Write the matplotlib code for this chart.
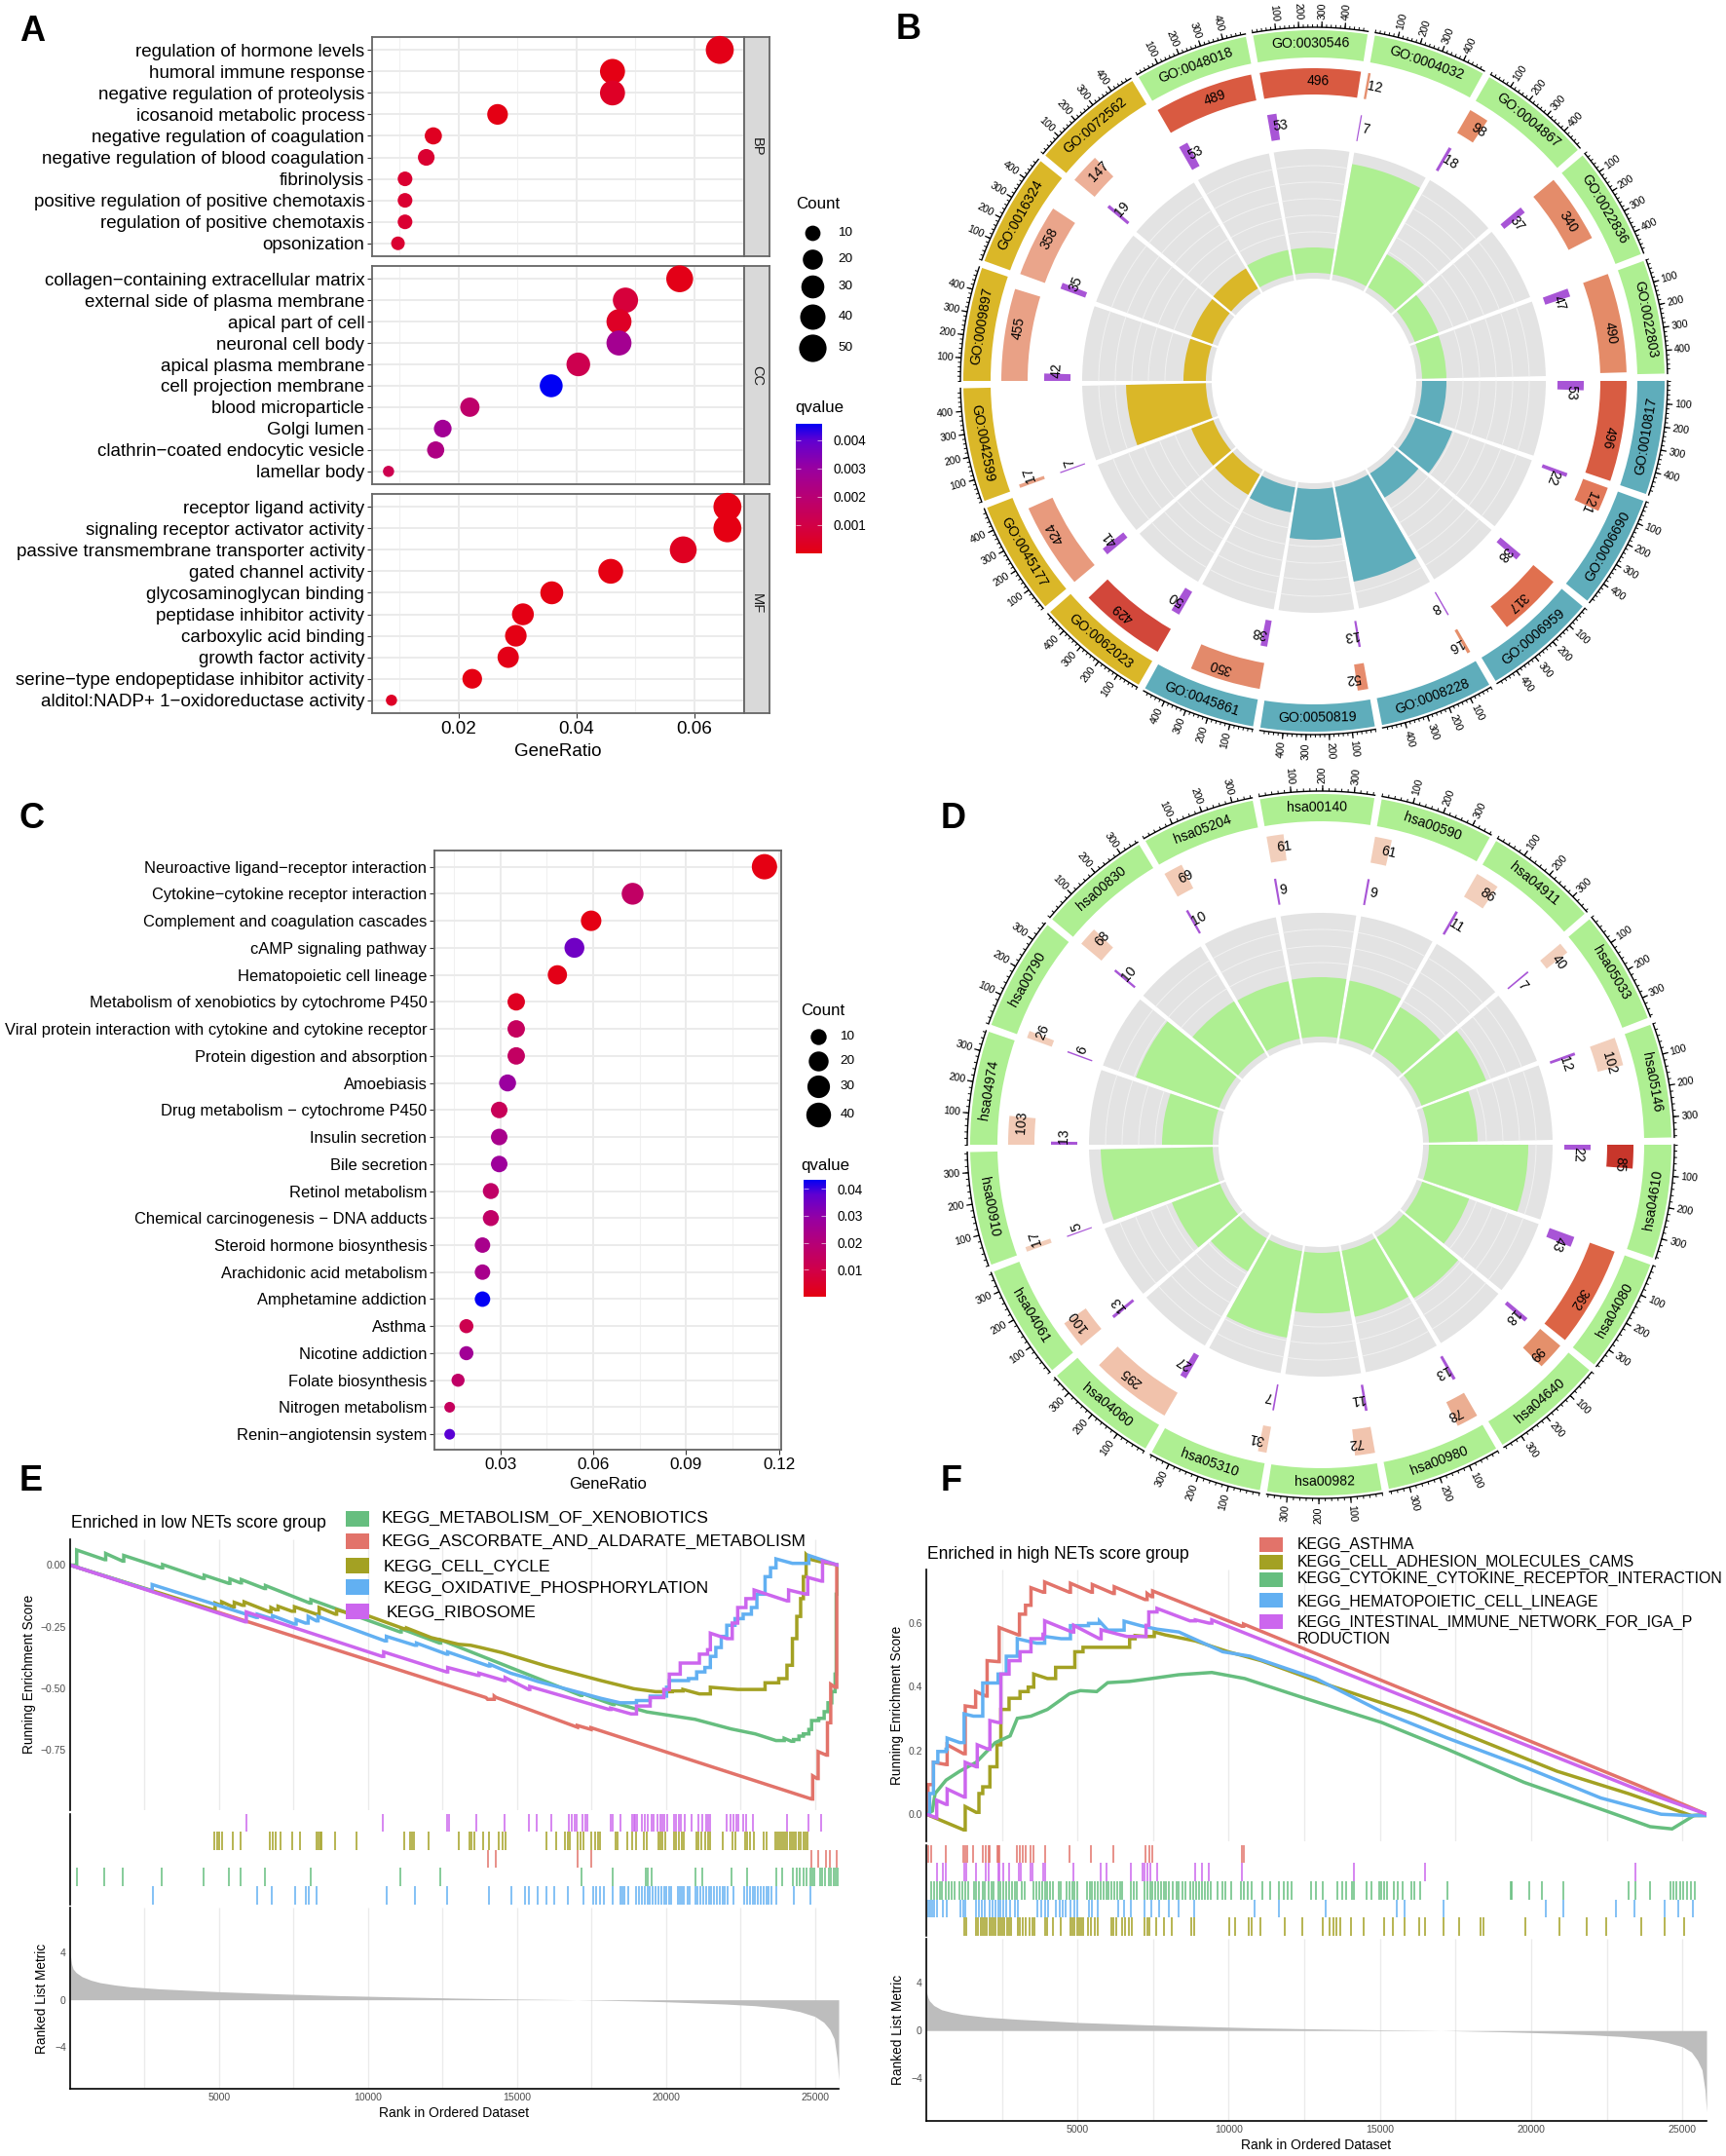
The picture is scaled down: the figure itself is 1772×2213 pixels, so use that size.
import numpy as np
import matplotlib
matplotlib.use("Agg")
import matplotlib.pyplot as plt
from matplotlib.colors import LinearSegmentedColormap, Normalize
from matplotlib.patches import Rectangle

plt.rcParams['font.family'] = ['Liberation Sans', 'DejaVu Sans']

W, H = 1772, 2213

# panel A
bp_terms = ["regulation of hormone levels", "humoral immune response", "negative regulation of proteolysis",
            "icosanoid metabolic process", "negative regulation of coagulation", "negative regulation of blood coagulation",
            "fibrinolysis", "positive regulation of positive chemotaxis", "regulation of positive chemotaxis", "opsonization"]
bp_ratio = [.0643, .0461, .0461, .0266, .0157, .0145, .0109, .0109, .0109, .0097]
bp_count = [54, 39, 39, 22, 13, 12, 9, 9, 9, 8]
bp_q = [.0001, .00005, .0004, .00005, .0003, .0006, .0006, .0006, .0006, .0006]
cc_terms = ["collagen−containing extracellular matrix", "external side of plasma membrane", "apical part of cell",
            "neuronal cell body", "apical plasma membrane", "cell projection membrane", "blood microparticle",
            "Golgi lumen", "clathrin−coated endocytic vesicle", "lamellar body"]
cc_ratio = [.0575, .0483, .0472, .0472, .0403, .0357, .0219, .0173, .0161, .0081]
cc_count = [48, 40, 39, 39, 33, 30, 18, 14, 13, 7]
cc_q = [.0001, .0008, .0004, .0027, .0012, .0047, .0018, .0028, .0024, .0012]
mf_terms = ["receptor ligand activity", "signaling receptor activator activity", "passive transmembrane transporter activity",
            "gated channel activity", "glycosaminoglycan binding", "peptidase inhibitor activity", "carboxylic acid binding",
            "growth factor activity", "serine−type endopeptidase inhibitor activity", "alditol:NADP+ 1−oxidoreductase activity"]
mf_ratio = [.0656, .0656, .0581, .0458, .0358, .0309, .0297, .0284, .0223, .0086]
mf_count = [54, 54, 48, 38, 30, 26, 25, 24, 19, 7]
mf_q = [.00002, .00002, .0003, .00002, .00002, .00005, .00005, .0001, .00002, .0004]

# panel C
kegg_terms = ["Neuroactive ligand−receptor interaction", "Cytokine−cytokine receptor interaction",
              "Complement and coagulation cascades", "cAMP signaling pathway", "Hematopoietic cell lineage",
              "Metabolism of xenobiotics by cytochrome P450", "Viral protein interaction with cytokine and cytokine receptor",
              "Protein digestion and absorption", "Amoebiasis", "Drug metabolism − cytochrome P450", "Insulin secretion",
              "Bile secretion", "Retinol metabolism", "Chemical carcinogenesis − DNA adducts", "Steroid hormone biosynthesis",
              "Arachidonic acid metabolism", "Amphetamine addiction", "Asthma", "Nicotine addiction", "Folate biosynthesis",
              "Nitrogen metabolism", "Renin−angiotensin system"]
kegg_ratio = [.1153, .0727, .0593, .0539, .0484, .0351, .0351, .0351, .0323, .0296, .0296, .0296, .0269, .0269,
              .0242, .0242, .0242, .0190, .0190, .0163, .0136, .0136]
kegg_count = [43, 27, 22, 20, 18, 13, 13, 13, 12, 11, 11, 11, 10, 10, 9, 9, 9, 7, 7, 6, 5, 5]
kegg_q = [.0003, .0155, .0005, .035, .001, .003, .014, .015, .028, .013, .024, .027, .016, .016, .024, .024, .043,
          .011, .026, .016, .014, .038]

# panel B, clockwise from east
go_ids = ["GO:0010817", "GO:0006690", "GO:0006959", "GO:0008228", "GO:0050819", "GO:0045861", "GO:0062023", "GO:0045177",
          "GO:0042599", "GO:0009897", "GO:0016324", "GO:0072562", "GO:0048018", "GO:0030546", "GO:0004032", "GO:0004867",
          "GO:0022836", "GO:0022803"]
go_total = [496, 121, 317, 16, 52, 350, 429, 424, 17, 455, 358, 147, 489, 496, 12, 98, 340, 490]
go_hits = [53, 22, 38, 8, 13, 38, 50, 41, 7, 42, 35, 19, 53, 53, 7, 18, 37, 47]
go_rich = [136, 151, 140, 210, 163, 137, 135, 135, 193, 134, 134, 135, 137, 137, 226, 150, 137, 136]
go_bar_colors = ["#D85C42", "#E2795A", "#E0704F", "#E58F6B", "#E68C6D", "#E38A6B", "#D2473A", "#E89A7D", "#E9A286",
                 "#E9A186", "#EAA58B", "#EDB098", "#D95A41", "#D95A41", "#E58F6E", "#E58C68", "#E48C6A", "#E48B68"]
go_sector_colors = ["#5FADBB"] * 6 + ["#DAB728"] * 6 + ["#AEEF92"] * 6

# panel D, clockwise from east
hsa_ids = ["hsa04610", "hsa04080", "hsa04640", "hsa00980", "hsa00982", "hsa05310", "hsa04060", "hsa04061", "hsa00910",
           "hsa04974", "hsa00790", "hsa00830", "hsa05204", "hsa00140", "hsa00590", "hsa04911", "hsa05033", "hsa05146"]
hsa_total = [85, 362, 99, 78, 72, 31, 295, 100, 17, 103, 26, 68, 69, 61, 61, 86, 40, 102]
hsa_hits = [22, 43, 18, 13, 11, 7, 27, 13, 5, 13, 6, 10, 10, 9, 9, 11, 7, 12]
hsa_rich = [213, 162, 184, 180, 173, 201, 150, 164, 226, 163, 202, 172, 171, 172, 171, 163, 182, 161]
hsa_bar_colors = ["#C8362B", "#DC6445", "#E4906B", "#EBAE92", "#F1C4AE", "#F2C9B4", "#F1C2AB", "#F1C4AE", "#F2CDB9", "#F2CAB6",
                  "#F2CDB9", "#F2CBB6", "#F2CBB6", "#F2CFBC", "#F2CDB9", "#F2CFBC", "#F2CFBC", "#F2CFBC"]
hsa_sector_colors = ["#AEEF92"] * 18

# panel E
e_names = ["KEGG_METABOLISM_OF_XENOBIOTICS", "KEGG_ASCORBATE_AND_ALDARATE_METABOLISM", "KEGG_CELL_CYCLE",
           "KEGG_OXIDATIVE_PHOSPHORYLATION", "KEGG_RIBOSOME"]
e_green_x = [0, 90, 220, 1157, 1194, 1763, 1800, 3068, 3105, 4464, 4500, 5327, 5364, 5713, 5750, 6521, 6558, 8046, 8083, 11077,
             11114, 12400, 12437, 17140, 17176, 18223, 18260, 19362, 20979, 22190, 23000, 23697, 23973, 24212, 24285, 24468,
             24615, 24800, 24891, 25130, 25314, 25442, 25570, 25681, 25718, 25773]
e_green_y = [0, 0, .061, .022, .047, .016, .039, -.011, .002, -.054, -.041, -.074, -.056, -.072, -.059, -.095, -.083, -.154, -.14,
             -.271, -.258, -.316, -.303, -.528, -.52, -.565, -.558, -.595, -.625, -.664, -.684, -.711, -.702, -.714, -.707, -.693,
             -.684, -.666, -.63, -.621, -.594, -.558, -.513, -.442, -.118, 0]
e_red_x = [0, 13961, 14016, 14237, 14292, 17029, 17029, 17488, 17488, 24891, 24928, 25075, 25112, 25387, 25424, 25498, 25534, 25681, 25736]
e_red_y = [0, -.537, -.544, -.531, -.536, -.657, -.65, -.666, -.659, -.948, -.854, -.865, -.756, -.77, -.639, -.639, -.483, -.495, 0]
e_olive_x = [0, 4813, 4868, 5052, 5089, 5456, 5511, 5787, 5842, 6705, 6742, 6889, 6981, 7440, 7532, 8267, 8358, 8909, 8946, 9552, 9644,
             11206, 11298, 12124, 13043, 13447, 13778, 14512, 15982, 17819, 18921, 19656, 20207, 20574, 21125, 21493, 22411, 23330,
             23789, 24065, 24248, 24395, 24524, 24616, 24708, 24891, 25167, 25773]
e_olive_y = [0, -.181, -.154, -.163, -.149, -.169, -.151, -.163, -.149, -.19, -.172, -.181, -.167, -.187, -.169, -.199, -.172, -.199,
             -.181, -.203, -.19, -.258, -.255, -.294, -.321, -.325, -.334, -.355, -.409, -.468, -.501, -.513, -.51, -.504, -.522,
             -.495, -.504, -.477, -.46, -.406, -.298, -.208, -.136, -.047, .043, .022, .014, 0]
e_blue_x = [0, 2719, 2755, 6246, 6283, 6760, 6797, 7532, 7587, 7899, 7991, 8267, 8322, 10563, 10618, 11573, 11628, 12639, 12675, 14053,
            14090, 14788, 15247, 15706, 16717, 17268, 17819, 18462, 19013, 19472, 20023, 20115, 20758, 21033, 21309, 21493, 21677, 21860,
            22044, 22320, 22595, 22871, 23055, 23330, 23513, 23697, 24248, 24800, 25773]
e_blue_y = [0, -.104, -.079, -.212, -.199, -.217, -.205, -.239, -.221, -.235, -.208, -.226, -.208, -.307, -.289, -.325, -.316, -.361,
            -.352, -.409, -.402, -.438, -.454, -.472, -.504, -.522, -.54, -.558, -.549, -.531, -.495, -.468, -.46, -.433, -.415, -.37,
            -.334, -.289, -.244, -.217, -.199, -.172, -.118, -.047, -.011, .025, .007, .039, 0]
e_pink_x = [0, 5878, 5915, 10471, 10526, 12639, 12675, 13686, 13723, 14568, 14604, 15394, 15431, 18094, 18150, 18829, 19013, 19472, 19932,
            20115, 20482, 21125, 21401, 21493, 22044, 22228, 22411, 22687, 22962, 24065, 24120, 24708, 24763, 25222, 25259, 25773]
e_pink_y = [0, -.23, -.19, -.37, -.352, -.433, -.415, -.447, -.438, -.468, -.456, -.504, -.492, -.585, -.58, -.603, -.571, -.537, -.504,
            -.442, -.397, -.361, -.343, -.276, -.298, -.235, -.172, -.136, -.101, -.145, -.101, -.118, -.05, -.065, .016, 0]

e_rug_pink = [5915, 10508, 12639, 12712, 13649, 14568, 15413, 15651, 16166, 16753, 16845, 16937, 17011, 17213, 17286, 17360, 18132, 18223,
              18462, 18866, 18921, 18976, 19031, 19197, 19289, 19399, 19509, 19601, 19711, 19803, 19876, 19950, 20060, 20281, 20354,
              20428, 20501, 20630, 20869, 21107, 21217, 21346, 21420, 21493, 22044, 22154, 22265, 22375, 22448, 22595, 22705, 22926,
              24083, 24781, 25204]
e_rug_olive = [4850, 4942, 5015, 5089, 5456, 5732, 6705, 6797, 6907, 7054, 7458, 7716, 8285, 8340, 8395, 8450, 8909, 9625, 11206, 11426,
               11481, 11536, 12032, 13043, 13411, 13484, 13557, 13851, 14053, 14402, 14512, 14623, 15982, 16313, 16625, 16717, 16772,
               17029, 17139, 17231, 17488, 17635, 17708, 17782, 18315, 18388, 18701, 18866, 18995, 19252, 19344, 19766, 19821, 19895,
               19968, 20281, 20354, 20446, 20538, 20593, 21015, 21107, 21180, 21309, 21420, 21493, 21897, 22228, 22320, 22650, 22723,
               22815, 22962, 23293, 23385, 23660, 23734, 23789, 23862, 23936, 24010, 24083, 24157, 24230, 24304, 24377, 24450, 24524,
               24615, 24689, 24763]
e_rug_red = [14016, 14292, 17029, 17488, 24891, 25112, 25387, 25497, 25736]
e_rug_green = [220, 1157, 1763, 3086, 4464, 5346, 5732, 6540, 8065, 11077, 12418, 17176, 18223, 19325, 19399, 19509, 20979, 21217, 22190,
               22742, 23697, 23918, 24267, 24395, 24505, 24615, 24707, 24836, 24909, 24983, 25167, 25259, 25351, 25479, 25553, 25626,
               25718, 25773]
e_rug_blue = [2774, 6283, 6760, 7550, 7917, 8010, 8285, 10618, 11573, 12657, 14053, 14806, 15265, 15394, 15706, 15982, 16258, 16717, 17231,
              17562, 17672, 17782, 17929, 18223, 18462, 18535, 18609, 18737, 19013, 19105, 19197, 19289, 19381, 19472, 19564, 19656,
              19748, 19840, 19932, 20005, 20097, 20170, 20391, 20464, 20538, 20611, 20722, 20795, 20979, 21070, 21162, 21254, 21346,
              21438, 21530, 21622, 21713, 21805, 21897, 21989, 22081, 22265, 22632, 22723, 22815, 22907, 22999, 23091, 23183, 23275,
              23367, 23458, 23550, 23697, 24285, 24854]
e_metric_x = [0, 50, 100, 200, 400, 700, 1000, 1500, 2000, 3000, 4000, 5000, 7000, 9000, 11000, 13000, 15000, 16500, 17000, 18000, 19000,
              20000, 21000, 22000, 23000, 24000, 24500, 25000, 25300, 25500, 25650, 25750, 25800]
e_metric_y = [3.9, 3.0, 2.6, 2.3, 1.95, 1.65, 1.45, 1.25, 1.1, .92, .8, .68, .5, .35, .24, .14, .06, .02, 0, -.05, -.1, -.17, -.26, -.36,
              -.5, -.75, -1, -1.4, -1.9, -2.5, -3.3, -5, -6.8]

# panel F
f_names = ["KEGG_ASTHMA", "KEGG_CELL_ADHESION_MOLECULES_CAMS", "KEGG_CYTOKINE_CYTOKINE_RECEPTOR_INTERACTION",
           "KEGG_HEMATOPOIETIC_CELL_LINEAGE", "KEGG_INTESTINAL_IMMUNE_NETWORK_FOR_IGA_P\nRODUCTION"]
f_red_x = [0, 54, 236, 652, 689, 1232, 1287, 1595, 1631, 1975, 2011, 2374, 2410, 3044, 3080, 3280, 3461, 3860, 3914, 4729, 4766, 5454, 5490,
           6179, 6215, 7230, 7302, 7447, 7484, 10437, 10491, 23483, 25803]
f_red_y = [0, .093, .163, .156, .218, .19, .34, .336, .385, .371, .482, .479, .586, .563, .628, .656, .711, .697, .729, .697, .725, .697,
           .721, .693, .714, .674, .693, .683, .701, .59, .597, .093, 0]
f_olive_x = [0, 1232, 1287, 1649, 1740, 1866, 2102, 2337, 2464, 2736, 3099, 3370, 3552, 4005, 4276, 4729, 4911, 5182, 5817, 6179, 6723, 6904,
             7266, 7538, 7900, 8897, 9984, 11071, 13065, 16145, 18319, 20856, 23212, 25296, 25803]
f_olive_y = [0, -.049, .024, .006, .065, .086, .149, .218, .329, .364, .385, .399, .44, .426, .461, .461, .51, .524, .524, .524, .551, .561,
             .558, .572, .563, .544, .51, .482, .413, .315, .232, .135, .065, -.004, 0]
f_green_x = [0, 199, 290, 652, 1105, 1649, 2283, 2772, 3008, 3461, 4005, 4729, 5092, 5635, 5998, 6723, 7447, 8353, 9441, 10528, 12521, 15058,
             17232, 19769, 22487, 23936, 24661, 25386, 25803]
f_green_y = [0, .01, .065, .107, .135, .163, .225, .246, .301, .308, .329, .378, .388, .385, .413, .417, .426, .438, .445, .426, .364, .288,
             .204, .1, .01, -.039, -.046, -.004, 0]
f_blue_x = [0, 109, 236, 381, 652, 689, 1105, 1250, 1558, 1866, 2374, 2645, 3008, 3642, 3914, 4458, 4766, 5364, 5726, 5998, 6541, 7085, 7629,
            8353, 9803, 10709, 12883, 15058, 17232, 19769, 22306, 24299, 25205, 25803]
f_blue_y = [0, .065, .163, .197, .204, .239, .225, .315, .308, .412, .44, .496, .551, .537, .558, .551, .592, .599, .606, .578, .606, .592,
            .581, .572, .51, .496, .426, .322, .239, .149, .051, 0, -.004, 0]
f_pink_x = [0, 344, 344, 652, 689, 1250, 1287, 1649, 1685, 2048, 2102, 2374, 2464, 2736, 3099, 3461, 3860, 3914, 4820, 4874, 5726, 5780, 6632,
            7266, 7357, 7629, 8716, 8897, 9350, 9441, 23483, 25803]
f_pink_y = [0, -.011, .044, .031, .079, .054, .163, .149, .218, .204, .294, .288, .44, .482, .51, .551, .565, .607, .572, .593, .551, .579,
            .558, .593, .635, .646, .607, .61, .6, .61, .079, 0]

f_rug_red = [54, 163, 652, 1232, 1287, 1359, 1558, 1884, 1975, 2048, 2102, 2337, 2392, 2428, 3008, 3080, 3189, 3298, 3461, 3551, 3914, 4729,
             5436, 6197, 7248, 7375, 7484, 10437, 10491]
f_rug_pink = [344, 562, 652, 1250, 1323, 1649, 1975, 2048, 2374, 2428, 2555, 2736, 3062, 3135, 3461, 3515, 3860, 3914, 4874, 5780, 5961, 6759,
              7139, 7230, 7320, 7411, 7629, 8897, 9115, 9350, 10437, 14152, 16507, 23447]
f_rug_green = [163, 254, 344, 435, 525, 652, 743, 834, 924, 1105, 1196, 1287, 1377, 1576, 1649, 1740, 1866, 1939, 2048, 2156, 2229, 2374, 2464,
               2555, 2646, 2736, 2827, 2917, 2990, 3171, 3243, 3552, 3642, 3733, 3823, 3914, 4005, 4095, 4186, 4367, 4458, 4639, 4729, 4820,
               4911, 5001, 5309, 5400, 5490, 5581, 5672, 5762, 5853, 5943, 6034, 6125, 6215, 6306, 6396, 6487, 6777, 6867, 6958, 7212, 7302,
               7393, 7484, 7574, 7665, 7755, 7846, 7937, 8027, 8136, 8263, 8353, 8462, 8571, 8716, 8824, 8933, 9024, 9114, 9205, 9296, 9404,
               9622, 9803, 9894, 10075, 10401, 10491, 10618, 10745, 11108, 11379, 11651, 11832, 11941, 12068, 12738, 12883, 13101, 13608,
               13753, 13880, 14061, 14152, 14550, 14732, 14967, 15058, 15148, 15239, 15456, 15601, 15746, 16054, 16145, 16326, 17232, 19316,
               19370, 19950, 20349, 21074, 23212, 23447, 23936, 24607, 24697, 24806, 24933, 25024, 25151, 25296, 25422]
f_rug_blue = [54, 127, 199, 272, 344, 562, 670, 1142, 1214, 1287, 1649, 1740, 1830, 1921, 2102, 2193, 2283, 2374, 2464, 2555, 2646, 2773, 2917,
              3026, 3678, 3787, 3914, 4041, 4276, 4403, 4512, 4620, 4765, 4910, 4983, 5364, 5490, 5672, 6360, 6541, 6759, 7230, 7447, 7701,
              8027, 8353, 8860, 10854, 11651, 13210, 15547, 15819, 17105, 20494, 21074, 22795, 23429, 24408, 24879, 25350]
f_rug_olive = [1250, 1323, 1649, 1721, 1794, 1866, 1939, 2011, 2084, 2156, 2229, 2301, 2374, 2446, 2519, 2591, 2664, 2736, 2809, 3026, 3099,
               3189, 3280, 3425, 3515, 3588, 3914, 4005, 4186, 4458, 4765, 4838, 4910, 4983, 5055, 5128, 5200, 5345, 5454, 5563, 5672, 6107,
               6179, 6270, 6469, 6578, 6686, 6795, 7212, 7302, 7375, 7592, 7846, 8118, 8770, 8860, 10022, 10221, 10655, 10745, 11035, 11869,
               12449, 13101, 13336, 13463, 13572, 13699, 14043, 14478, 15148, 15420, 15819, 16290, 16507, 17105, 17630, 18319, 18427, 19823,
               20948, 21836, 22470, 23647, 24408, 25060]
f_metric_x = [0, 50, 100, 250, 500, 800, 1200, 2000, 3000, 4000, 5000, 7000, 9000, 11000, 13000, 15000, 16500, 17000, 18000, 19000, 20000,
              21000, 22000, 23000, 24000, 24500, 25000, 25300, 25500, 25650, 25750, 25800]
f_metric_y = [3.3, 2.8, 2.5, 2.1, 1.75, 1.55, 1.35, 1.12, .95, .82, .68, .5, .35, .22, .13, .06, .02, 0, -.05, -.1, -.17, -.25, -.36, -.5,
              -.75, -1, -1.35, -1.8, -2.5, -3.3, -5, -6.8]

GREEN, RED, OLIVE, BLUE, PINK = "#66BE7F", "#E2736A", "#A3A123", "#62B0F2", "#CC66EE"

fig = plt.figure(figsize=(W / 100, H / 100), dpi=100)

q_cmap = LinearSegmentedColormap.from_list("q", [(0, "#E50012"), (.22, "#D10048"), (.43, "#B90073"),
                                                 (.65, "#9A00A0"), (.87, "#6000D2"), (1, "#0000F5")])


def px_axes(x0, y0, x1, y1, **kw):
    return fig.add_axes([x0 / W, 1 - y1 / H, (x1 - x0) / W, (y1 - y0) / H], **kw)


# overlay in pixel coordinates for legends and panel letters
over = px_axes(0, 0, W, H, zorder=20)
over.set_xlim(0, W)
over.set_ylim(H, 0)
over.axis("off")


def dot_size(d_px):
    return (d_px * .72) ** 2


def dot_panel(ax, terms, ratio, count, q, qmax, dsize, fs, xticks):
    ax.set_axisbelow(True)
    y = np.arange(len(terms))
    ax.scatter(ratio, y, s=[dot_size(dsize(c)) for c in count], c=q, cmap=q_cmap, norm=Normalize(0, qmax),
               linewidths=0, zorder=3, clip_on=False)
    ax.set_yticks(y)
    ax.set_yticklabels(terms, fontsize=fs)
    ax.set_ylim(len(terms) - .4, -.6)
    ax.set_xticks(xticks)
    ax.set_xticks([(a + b) / 2 for a, b in zip(xticks[:-1], xticks[1:])] + [xticks[0] - (xticks[1] - xticks[0]) / 2,
                                                                           xticks[-1] + (xticks[1] - xticks[0]) / 2], minor=True)
    ax.grid(True, which="major", color="#EBEBEB", lw=1.4)
    ax.grid(True, which="minor", axis="x", color="#F0F0F0", lw=.8)
    ax.tick_params(axis="both", which="major", length=3.5, width=.8, color="#333333", pad=2)
    ax.tick_params(axis="x", which="minor", length=0)
    for s in ax.spines.values():
        s.set_color("#666666")
        s.set_linewidth(1.3)


def dot_legend(x_dot, x_lab, ys, labels, d_px, x_title, y_title):
    over.text(x_title, y_title, "Count", fontsize=12.2, ha="center", va="center")
    for yy, lab, d in zip(ys, labels, d_px):
        over.scatter([x_dot], [yy], s=dot_size(d), c="black", linewidths=0)
        over.text(x_lab, yy, lab, fontsize=9.7, ha="center", va="center")


def q_bar(x0, y0, x1, y1, qtop, qticks, qlabels, x_title, y_title, fs):
    over.text(x_title, y_title, "qvalue", fontsize=12.2, ha="center", va="center")
    cb = px_axes(x0, y0, x1, y1, zorder=15)
    cb.imshow(np.linspace(0, 1, 200)[:, None], aspect="auto", cmap=q_cmap, origin="lower", extent=[0, 1, 0, qtop])
    cb.set_xticks([])
    cb.yaxis.tick_right()
    cb.set_yticks(qticks)
    cb.set_yticklabels(qlabels, fontsize=fs)
    cb.tick_params(axis="y", length=0, pad=8)
    cb.hlines(qticks, 0, .2, color="white", lw=.6, alpha=.7)
    cb.hlines(qticks, .8, 1, color="white", lw=.6, alpha=.7)
    for s in cb.spines.values():
        s.set_visible(False)


# A
a_size = lambda c: 11.5 + 17.2 * np.sqrt((c - 7) / 47)
a_boxes = [(38, 263), (273, 497), (507, 732)]
a_sets = [(bp_terms, bp_ratio, bp_count, bp_q, "BP"), (cc_terms, cc_ratio, cc_count, cc_q, "CC"),
          (mf_terms, mf_ratio, mf_count, mf_q, "MF")]
for (y0, y1), (terms, ratio, count, q, strip) in zip(a_boxes, a_sets):
    ax = px_axes(382, y0, 764, y1)
    dot_panel(ax, terms, ratio, count, q, .0047, a_size, 13.5, [.02, .04, .06])
    ax.set_xlim(.00531, .06844)
    st = px_axes(764, y0, 790, y1)
    st.set_facecolor("#D9D9D9")
    st.set_xticks([])
    st.set_yticks([])
    for s in st.spines.values():
        s.set_color("#666666")
        s.set_linewidth(1.3)
    st.text(.5, .5, strip, rotation=-90, ha="center", va="center", fontsize=10.5, color="#1A1A1A", transform=st.transAxes)
    if strip != "MF":
        ax.tick_params(axis="x", labelbottom=False, length=0, which="both")
    else:
        ax.set_xticklabels(["0.02", "0.04", "0.06"], fontsize=13.6)
        ax.set_xlabel("GeneRatio", fontsize=13.5, labelpad=4.5)

dot_legend(834, 868, [239, 266, 294, 325, 357], ["10", "20", "30", "40", "50"], [15.8, 20.6, 23.6, 26, 28.2], 840, 210)
q_bar(817, 434.5, 844, 568, .0046, [.001, .002, .003, .004], ["0.001", "0.002", "0.003", "0.004"], 841, 418, 9.8)

# C
c_size = lambda c: 11 + 15 * np.sqrt((c - 5) / 38)
ax = px_axes(446, 873, 802, 1488)
dot_panel(ax, kegg_terms, kegg_ratio, kegg_count, kegg_q, .0433, c_size, 11.9, [.03, .06, .09, .12])
ax.set_xlim(.00867, .1207)
ax.set_ylim(21.57, -.6)
ax.set_xticklabels(["0.03", "0.06", "0.09", "0.12"], fontsize=12.3)
ax.set_xlabel("GeneRatio", fontsize=12, labelpad=4)
dot_legend(840, 870, [1064, 1089, 1115, 1144], ["10", "20", "30", "40"], [16.4, 20.4, 23.2, 25.4], 845, 1037)
q_bar(825, 1211, 848, 1331, .0433, [.01, .02, .03, .04], ["0.01", "0.02", "0.03", "0.04"], 847, 1196.5, 9.8)


# circular plots
def circos(cx, cy, ids, total, hits, rich, bar_colors, sector_colors, xlim, major):
    R = 400
    ax = px_axes(cx - R, cy - R, cx + R, cy + R, projection="polar", zorder=5)
    ax.set_ylim(0, R)
    ax.axis("off")
    span = 18.8
    to_th = lambda start, v: np.deg2rad(start - v / xlim * span)
    minor = np.arange(0, xlim, 20)
    for i in range(len(ids)):
        a = -20.0 * i
        mid = a - span / 2
        t0, t1 = to_th(a, 0), to_th(a, xlim)
        tc, tw = (t0 + t1) / 2, abs(t1 - t0)
        # outer ring
        ax.bar(tc, 28, width=tw, bottom=332, color=sector_colors[i], linewidth=0)
        rot = mid - 90 if np.sin(np.deg2rad(mid)) > 0 else mid + 90
        ax.text(np.deg2rad(mid), 346, ids[i], fontsize=10.2, rotation=rot, rotation_mode="anchor", ha="center", va="center")
        # axis arc and ticks
        arc = np.linspace(t0, t1, 40)
        ax.plot(arc, np.full(40, 363), color="black", lw=1)
        ax.vlines([to_th(a, v) for v in minor], 363, 366, color="black", lw=.7)
        ax.vlines([to_th(a, v) for v in major], 363, 369, color="black", lw=.9)
        for v in major:
            deg = a - v / xlim * span
            r = deg if np.cos(np.deg2rad(deg)) >= 0 else deg + 180
            ax.text(np.deg2rad(deg), 380, str(v), fontsize=7.6, rotation=r, rotation_mode="anchor", ha="center", va="center")
        # totals
        ax.bar(to_th(a, total[i] / 2), 27, width=abs(to_th(a, total[i]) - t0), bottom=294, color=bar_colors[i], linewidth=0)
        off = .08 * xlim
        tr = to_th(a, total[i] / 2 + off)
        ax.text(tr, 308, str(total[i]), fontsize=10, rotation=np.rad2deg(tr) - 90, rotation_mode="anchor", ha="center", va="center")
        # hits
        ax.bar(to_th(a, hits[i] / 2), 27, width=abs(to_th(a, hits[i]) - t0), bottom=250, color="#A855D6", linewidth=0)
        tr = to_th(a, hits[i] / 2 + off)
        ax.text(tr, 264, str(hits[i]), fontsize=10, rotation=np.rad2deg(tr) - 90, rotation_mode="anchor", ha="center", va="center")
        # inner track
        ax.bar(tc, 133, width=tw, bottom=105, color="#E3E3E3", linewidth=0)
        g = np.linspace(t0, t1, 30)
        for rr in [153, 170, 187, 204, 221]:
            ax.plot(g, np.full(30, rr), color="#F2F2F2", lw=.7)
        ax.bar(tc, rich[i] - 111, width=tw, bottom=111, color=sector_colors[i], linewidth=0, zorder=3)
    ax.set_ylim(0, R)


circos(1349, 391, go_ids, go_total, go_hits, go_rich, go_bar_colors, go_sector_colors, 500, [100, 200, 300, 400])
circos(1356, 1175, hsa_ids, hsa_total, hsa_hits, hsa_rich, hsa_bar_colors, hsa_sector_colors, 365, [100, 200, 300])


def stair(xs, ys):
    # rises in a running score are jumps at one rank
    out_x, out_y = [xs[0]], [ys[0]]
    for x, y in zip(xs[1:], ys[1:]):
        if y > out_y[-1]:
            out_x.append(x)
            out_y.append(out_y[-1])
        out_x.append(x)
        out_y.append(y)
    return out_x, out_y


# GSEA panels
def gsea(x0, x1, top, rug, bottom, ylim_top, yt, ytl, ylim_bot, curves, rug_rows, metric_x, metric_y):
    for_grid = [2500 * k for k in range(1, 11)]
    ax = px_axes(x0, top[0], x1, top[1], zorder=2)
    ax.vlines(for_grid, *ylim_top, color="#EBEBEB", lw=1, zorder=0)
    for xs, ys, col, stepped in curves:
        if stepped:
            xs, ys = stair(xs, ys)
        ax.plot(xs, ys, color=col, lw=2.5, solid_joinstyle="miter")
    ax.set_xlim(0, 25800)
    ax.set_ylim(*ylim_top)
    ax.set_xticks([])
    ax.set_yticks(yt)
    ax.set_yticklabels(ytl, fontsize=7.5, color="#4D4D4D")
    ax.tick_params(axis="y", length=0, pad=3)
    ax.set_ylabel("Running Enrichment Score", fontsize=9.8, labelpad=3)
    for k in ("top", "right", "bottom"):
        ax.spines[k].set_visible(False)
    ax.spines["left"].set_linewidth(1.2)

    ar = px_axes(x0, rug[0], x1, rug[1], zorder=2)
    for i, (xs, col) in enumerate(rug_rows):
        ar.vlines(xs, i, i + 1, color=col, lw=1.1)
    ar.set_xlim(0, 25800)
    ar.set_ylim(len(rug_rows), 0)
    ar.set_xticks([])
    ar.set_yticks([])
    for k in ("top", "right", "bottom"):
        ar.spines[k].set_visible(False)
    ar.spines["left"].set_linewidth(1.2)

    ab = px_axes(x0, bottom[0], x1, bottom[1], zorder=2)
    ab.vlines(for_grid, *ylim_bot, color="#EBEBEB", lw=1, zorder=0)
    ab.fill_between(metric_x, metric_y, 0, color="#BDBDBD", linewidth=0, zorder=2)
    ab.set_xlim(0, 25800)
    ab.set_ylim(*ylim_bot)
    ab.set_yticks([-4, 0, 4])
    ab.set_yticklabels(["−4", "0", "4"], fontsize=7.5, color="#4D4D4D")
    ab.set_xticks([5000, 10000, 15000, 20000, 25000])
    ab.set_xticklabels(["5000", "10000", "15000", "20000", "25000"], fontsize=7.6, color="#4D4D4D")
    ab.tick_params(axis="both", length=0, pad=3)
    ab.set_ylabel("Ranked List Metric", fontsize=9.8, labelpad=4.7)
    ab.set_xlabel("Rank in Ordered Dataset", fontsize=10, labelpad=3)
    for k in ("top", "right"):
        ab.spines[k].set_visible(False)
    ab.spines["left"].set_linewidth(1.2)
    ab.spines["bottom"].set_linewidth(1.2)


gsea(72, 861, (1579.6, 1858), (1861.5, 1954.7), (1958, 2144), (-.993, .106), [0, -.25, -.5, -.75],
     ["0.00", "−0.25", "−0.50", "−0.75"], (-7.51, 7.78),
     [(e_green_x, e_green_y, GREEN, True), (e_red_x, e_red_y, RED, True), (e_olive_x, e_olive_y, OLIVE, True),
      (e_blue_x, e_blue_y, BLUE, True), (e_pink_x, e_pink_y, PINK, True)],
     [(e_rug_pink, PINK), (e_rug_olive, OLIVE), (e_rug_red, RED), (e_rug_green, GREEN), (e_rug_blue, BLUE)],
     e_metric_x, e_metric_y)

gsea(951, 1752, (1611.4, 1890), (1893.8, 1987), (1990, 2176.6), (-.085, .767), [0, .2, .4, .6],
     ["0.0", "0.2", "0.4", "0.6"], (-7.55, 7.7),
     [(f_red_x, f_red_y, RED, True), (f_olive_x, f_olive_y, OLIVE, True), (f_green_x, f_green_y, GREEN, False),
      (f_blue_x, f_blue_y, BLUE, True), (f_pink_x, f_pink_y, PINK, True)],
     [(f_rug_red, RED), (f_rug_pink, PINK), (f_rug_green, GREEN), (f_rug_blue, BLUE), (f_rug_olive, OLIVE)],
     f_metric_x, f_metric_y)

over.text(73, 1564, "Enriched in low NETs score group", fontsize=12.65, va="center")
over.text(952, 1596, "Enriched in high NETs score group", fontsize=12.65, va="center")

e_box_y = [1559, 1582, 1607, 1629, 1654]
e_text_y = [1558, 1582, 1608, 1630, 1655]
e_text_x = [392, 392, 394, 394, 397]
for yb, yt_, xt, name, col in zip(e_box_y, e_text_y, e_text_x, e_names, [GREEN, RED, OLIVE, BLUE, PINK]):
    over.add_patch(Rectangle((355, yb - 8), 24, 16, facecolor=col, linewidth=0))
    over.text(xt, yt_, name, fontsize=12.6, va="center")

f_box_y = [1585.5, 1603, 1621, 1642, 1664]
f_text_y = [1585, 1603, 1620, 1644, 1674]
for yb, yt_, name, col in zip(f_box_y, f_text_y, f_names, [RED, OLIVE, GREEN, BLUE, PINK]):
    over.add_patch(Rectangle((1293, yb - 7.5), 24, 15, facecolor=col, linewidth=0))
    over.text(1331.6, yt_, name, fontsize=11.4, va="center", linespacing=1.15)

for lab, x, y in [("A", 33, 32), ("B", 933, 31), ("C", 33, 840), ("D", 979, 841), ("E", 32, 1520), ("F", 977, 1520)]:
    over.text(x, y, lab, fontsize=26, fontweight="bold", ha="center", va="center")

fig.savefig("out.png", dpi=100)
